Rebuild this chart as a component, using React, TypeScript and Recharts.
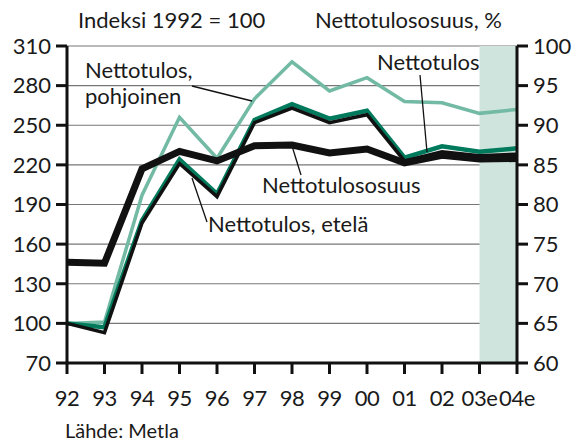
import React from "react";
import {
  LineChart,
  Line,
  XAxis,
  YAxis,
  CartesianGrid,
  ReferenceArea,
} from "recharts";

const years = ["92", "93", "94", "95", "96", "97", "98", "99", "00", "01", "02", "03e", "04e"];
const pohjoinen = [100, 101, 197, 256, 225, 270, 298, 276, 286, 268, 267, 259, 262];
const nettotulos = [100, 97, 178, 224, 198, 254, 266, 255, 261, 225.5, 234, 230, 232.5];
const etela = [100, 93, 176, 221, 196, 252, 263, 252, 258, 223, 230, 227, 228];
const osuus = [72.7, 72.6, 84.5, 86.7, 85.5, 87.4, 87.5, 86.5, 87.0, 85.25, 86.2, 85.75, 85.8];

const leftTicks = [70, 100, 130, 160, 190, 220, 250, 280, 310];
const rightTicks = [60, 65, 70, 75, 80, 85, 90, 95, 100];

const data = years.map((y, i) => ({
  year: y,
  pohjoinen: pohjoinen[i],
  nettotulos: nettotulos[i],
  etela: etela[i],
  osuus: osuus[i],
}));

const FONT = "Lato, 'Open Sans', sans-serif";
const TEAL = "#72baa4";
const GREEN = "#007a5c";
const SHADE = "#cfe4dc";

const tickStyle = { fontSize: 22, fill: "#1a1a1a", fontFamily: FONT };

export default function App() {
  return (
    <div style={{ position: "absolute", left: 0, top: 0, width: 577, height: 441, background: "#fff" }}>
      <LineChart
        width={577}
        height={441}
        data={data}
        margin={{ top: 46, right: 0, bottom: 38, left: 0 }}
      >
        <ReferenceArea yAxisId="left" x1="03e" x2="04e" fill={SHADE} fillOpacity={1} stroke="none" />
        <CartesianGrid yAxisId="left" vertical={false} stroke="#777" strokeWidth={1.2} />
        <XAxis
          dataKey="year"
          scale="point"
          height={40}
          padding={{ left: 0, right: 0 }}
          interval={0}
          tick={{ ...tickStyle, letterSpacing: -0.4 }}
          tickSize={11}
          tickMargin={16}
          axisLine={{ stroke: "#111", strokeWidth: 3 }}
          tickLine={{ stroke: "#111", strokeWidth: 3 }}
        />
        <YAxis
          yAxisId="left"
          domain={[70, 310]}
          ticks={leftTicks}
          width={67}
          tick={tickStyle}
          tickSize={11}
          tickMargin={5}
          axisLine={{ stroke: "#111", strokeWidth: 3 }}
          tickLine={{ stroke: "#111", strokeWidth: 3 }}
        />
        <YAxis
          yAxisId="right"
          orientation="right"
          domain={[60, 100]}
          ticks={rightTicks}
          width={60}
          tick={{ ...tickStyle, textAnchor: "start" }}
          tickSize={11}
          tickMargin={5}
          axisLine={{ stroke: "#111", strokeWidth: 3 }}
          tickLine={{ stroke: "#111", strokeWidth: 3 }}
        />
        <Line yAxisId="left" dataKey="pohjoinen" stroke={TEAL} strokeWidth={3.5} dot={false} isAnimationActive={false} />
        <Line yAxisId="left" dataKey="nettotulos" stroke={GREEN} strokeWidth={4.5} dot={false} isAnimationActive={false} />
        <Line yAxisId="left" dataKey="etela" stroke="#111" strokeWidth={3.5} dot={false} isAnimationActive={false} />
        <Line yAxisId="right" dataKey="osuus" stroke="#111" strokeWidth={7} dot={false} isAnimationActive={false} />
      </LineChart>
      <svg
        width={577}
        height={441}
        style={{ position: "absolute", left: 0, top: 0, pointerEvents: "none" }}
        fontFamily={FONT}
        fill="#1a1a1a"
      >
        <text x={78} y={28} fontSize={22}>Indeksi 1992 = 100</text>
        <text x={315} y={28} fontSize={22}>Nettotulososuus, %</text>
        <text x={85} y={78} fontSize={22}>Nettotulos,</text>
        <text x={85} y={104} fontSize={22}>pohjoinen</text>
        <line x1={192} y1={86} x2={252} y2={101} stroke="#111" strokeWidth={1.3} />
        <text x={377} y={70} fontSize={22}>Nettotulos</text>
        <line x1={420} y1={75} x2={427} y2={152} stroke="#111" strokeWidth={1.3} />
        <text x={262} y={193} fontSize={22}>Nettotulososuus</text>
        <line x1={292} y1={146} x2={301} y2={175} stroke="#111" strokeWidth={1.3} />
        <text x={208} y={232} fontSize={22}>Nettotulos, etelä</text>
        <line x1={192} y1={178} x2={207} y2={222} stroke="#111" strokeWidth={1.3} />
        <text x={65} y={438} fontSize={20}>Lähde: Metla</text>
      </svg>
    </div>
  );
}
